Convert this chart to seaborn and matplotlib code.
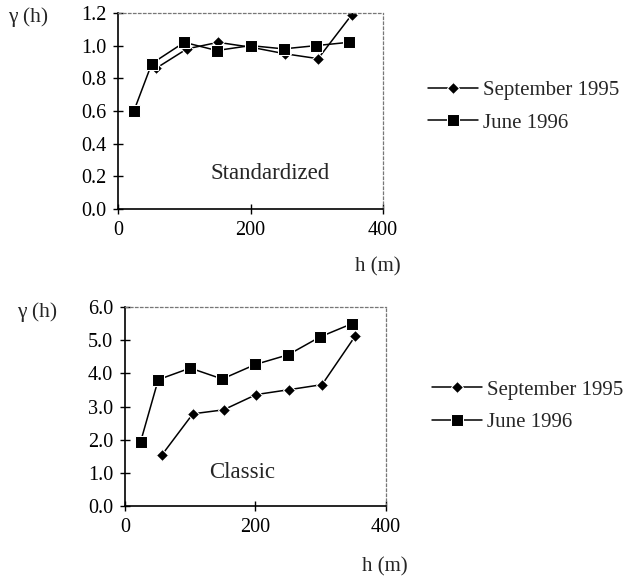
import pandas as pd
import matplotlib.pyplot as plt
import seaborn as sns

# lag distances (m)
h_sep = [57, 104, 151, 201, 252, 302, 353]
h_jun = [24, 51, 100, 149, 200, 250, 299, 348]

# standardized semivariograms
std_sep = [0.86, 0.98, 1.02, 0.99, 0.95, 0.92, 1.19]
std_jun = [0.60, 0.89, 1.02, 0.97, 1.00, 0.98, 1.00, 1.02]

# classic semivariograms
cls_sep = [1.55, 2.78, 2.90, 3.36, 3.51, 3.66, 5.13]
cls_jun = [1.94, 3.81, 4.16, 3.83, 4.27, 4.56, 5.10, 5.50]

series_labels = ["September 1995", "June 1996"]
y_ticks_std = [0.0, 0.2, 0.4, 0.6, 0.8, 1.0, 1.2]
y_ticks_cls = [0.0, 1.0, 2.0, 3.0, 4.0, 5.0, 6.0]
x_ticks = [0, 200, 400]

sns.set_theme(style="ticks")
plt.rcParams['font.family'] = ['Liberation Serif', 'DejaVu Serif']


def draw_panel(ax, sep, jun, yticks, note, note_xy, leg_xy):
    df_sep = pd.DataFrame({'h': h_sep, 'g': sep})
    df_jun = pd.DataFrame({'h': h_jun, 'g': jun})
    sns.lineplot(data=df_sep, x='h', y='g', ax=ax, color='black', marker='D',
                 markersize=6.5, linewidth=1.1, label=series_labels[0])
    sns.lineplot(data=df_jun, x='h', y='g', ax=ax, color='black', marker='s',
                 markersize=8, linewidth=1.1, label=series_labels[1])
    ax.set_xlim(0, 400)
    ax.set_ylim(yticks[0], yticks[-1])
    ax.set_xticks(x_ticks)
    ax.set_yticks(yticks)
    ax.set_yticklabels([f"{v:.1f}" for v in yticks])
    ax.set_xlabel('')
    ax.set_ylabel('')
    ax.tick_params(direction='inout', length=7, width=1, labelsize=14.5,
                   colors='black', pad=5)
    for s in ['left', 'bottom']:
        ax.spines[s].set_color('black')
        ax.spines[s].set_linewidth(1.2)
    for s in ['top', 'right']:
        ax.spines[s].set_visible(True)
        ax.spines[s].set_color('#777777')
        ax.spines[s].set_linewidth(0.9)
        ax.spines[s].set_linestyle((0, (2, 2)))
    ax.text(note_xy[0], note_xy[1], note, transform=ax.transAxes,
            fontsize=16.5, ha='center', va='center')
    handles, labels = ax.get_legend_handles_labels()
    ax.get_legend().remove()
    fig.legend(handles, labels, loc='center left', bbox_to_anchor=leg_xy,
               bbox_transform=fig.transFigure, frameon=False, fontsize=15,
               handlelength=2.4, handletextpad=0.25, labelspacing=0.62,
               borderpad=0, borderaxespad=0)


fig = plt.figure(figsize=(6.23, 5.8), dpi=100)
ax1 = fig.add_axes([0.1894, 0.6397, 0.4254, 0.338])
ax2 = fig.add_axes([0.2006, 0.1276, 0.4190, 0.343])

draw_panel(ax1, std_sep, std_jun, y_ticks_std, 'Standardized', (0.575, 0.18),
           (0.687, 0.816))
draw_panel(ax2, cls_sep, cls_jun, y_ticks_cls, 'Classic', (0.45, 0.17),
           (0.693, 0.300))

fig.text(0.045, 0.971, 'γ (h)', fontsize=15.5, ha='center', va='center')
fig.text(0.607, 0.540, 'h (m)', fontsize=15, ha='center', va='center')
fig.text(0.059, 0.462, 'γ (h)', fontsize=15.5, ha='center', va='center')
fig.text(0.618, 0.022, 'h (m)', fontsize=15, ha='center', va='center')

fig.savefig('out.png', dpi=100)
